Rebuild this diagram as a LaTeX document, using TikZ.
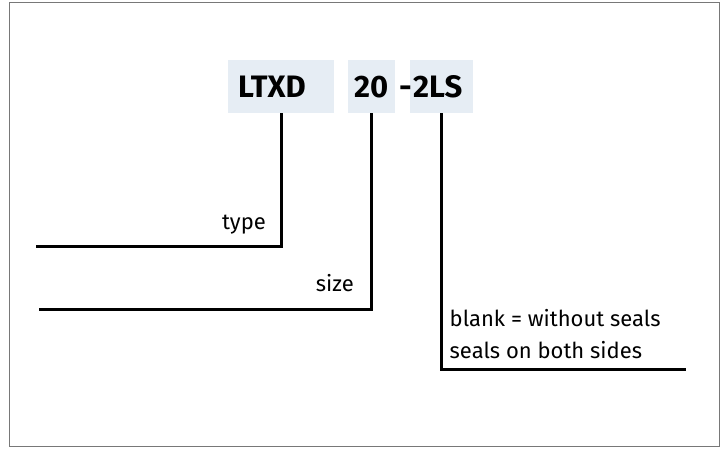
\documentclass[tikz,border=0pt]{standalone}
\usepackage{fontspec}
\setmainfont{Fira Sans}
\usetikzlibrary{calc,positioning}
\definecolor{codefill}{RGB}{230,237,244}
\definecolor{framegray}{RGB}{120,120,120}

\begin{document}
\begin{tikzpicture}[x=1pt,y=-1pt,
        codebox/.style={fill=codefill, minimum height=53pt, align=left, inner ysep=0pt,
            text height=21pt, text depth=0pt, font=\fontsize{31}{31}\selectfont\bfseries},
        leader/.style={line width=3pt},
        lbl/.style={inner sep=0pt, font=\fontsize{22}{22}\selectfont}]
        \useasboundingbox (0,0) rectangle (722,448);
        \draw[framegray, line width=1pt] (9,2.5) rectangle (719,446.5);

        \node[codebox, inner xsep=10pt, text width=86pt] (ltxd) at (281,86.5) {LTXD};
        \node[codebox, inner xsep=6pt, text width=35pt] (twenty) at (371.5,86.5) {20};
        \node[codebox, inner xsep=3pt, text width=57pt] (seal) at (441.5,86.5) {2LS};
        \node[codebox, fill=none, inner xsep=0pt, text width=9pt] (dash) at (403.5,86.5) {-};

        \coordinate (typeend) at (36,246.5);
        \coordinate (sizeend) at (39,309);
        \coordinate (sealend) at (686,369);

        \draw[leader] (ltxd.south) |- (typeend);
        \draw[leader] (twenty.south) |- (sizeend);
        \draw[leader] (seal.south) |- (sealend);

        \node[lbl, anchor=base east] (typelbl) at (266,229) {type};
        \node[lbl, anchor=base east] (sizelbl) at (354,291.5) {size};
        \node[lbl, anchor=base west] (blanklbl) at (449.5,326.5) {blank = without seals};
        \node[lbl, anchor=base west] (bothlbl) at (449.5,358) {seals on both sides};
    \end{tikzpicture}
\end{document}
